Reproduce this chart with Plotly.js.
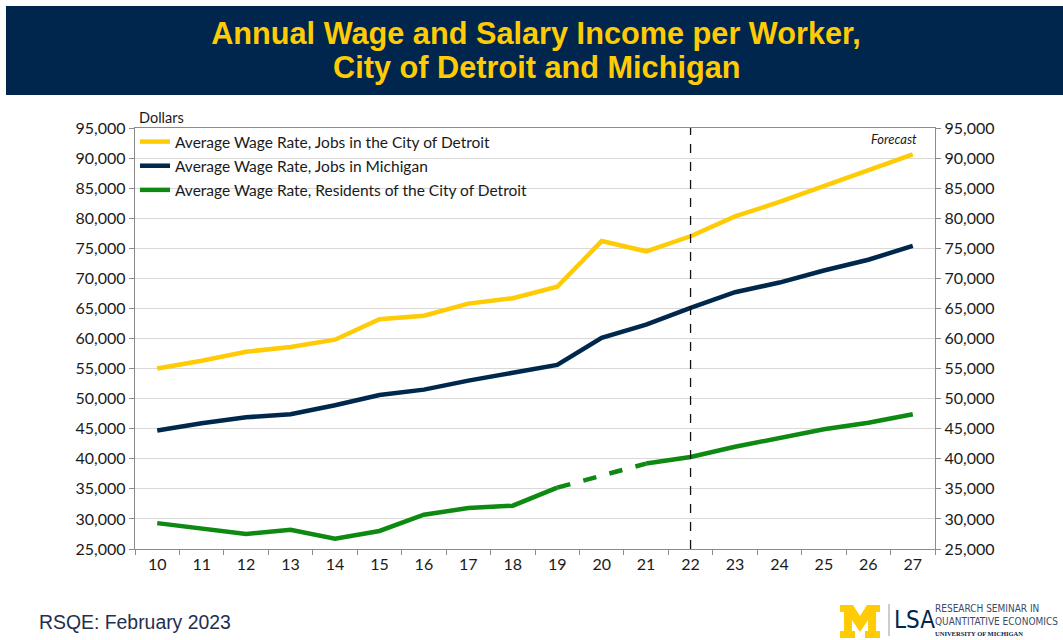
<!DOCTYPE html>
<html>
<head>
<meta charset="utf-8">
<script src="https://cdn.plot.ly/plotly-3.0.1.min.js"></script>
<style>
  html, body { margin: 0; padding: 0; background: #fff; }
  #chart { width: 1063px; height: 640px; }
</style>
</head>
<body>
<div id="chart"></div>
<script>
// years (20xx), last actual year is 22, forecast after
const years = [10, 11, 12, 13, 14, 15, 16, 17, 18, 19, 20, 21, 22, 23, 24, 25, 26, 27];
const forecastYear = 22;

const detroitJobs = [55000, 56300, 57800, 58600, 59800, 63200, 63800, 65800, 66700, 68600,
                     76200, 74500, 77000, 80300, 82700, 85300, 87900, 90600];
const michiganJobs = [44700, 45900, 46900, 47400, 48900, 50600, 51500, 53000, 54300, 55600,
                      60100, 62300, 65100, 67700, 69300, 71300, 73100, 75400];
const detroitResidents = [29300, 28400, 27500, 28200, 26700, 28000, 30700, 31800, 32200, 35200,
                          37200, 39200, 40300, 42000, 43500, 44900, 46000, 47400];

// residents series is dashed between 19 and 21 (estimated years)
const dashFrom = years.indexOf(19);
const dashTo = years.indexOf(21);

const names = [
  'Average Wage Rate, Jobs in the City of Detroit',
  'Average Wage Rate, Jobs in Michigan',
  'Average Wage Rate, Residents of the City of Detroit'
];
const colors = ['#FFCB05', '#00274C', '#0E8A12'];

const font = 'Lato, "Open Sans", sans-serif';
const arial = '"Liberation Sans", Arial, sans-serif';
const narrow = '"Liberation Sans Narrow", "DejaVu Sans Condensed", sans-serif';

// pixel -> paper helpers (plot area is 135..935 x 128..549)
const px = x => (x - 135) / 800;
const py = y => (549 - y) / 421;

let traces = [
  {
    x: years.slice(0, dashFrom + 1), y: detroitResidents.slice(0, dashFrom + 1),
    name: names[2], legendgroup: 'c', legendrank: 3,
    mode: 'lines', line: {color: colors[2], width: 4.5}
  },
  {
    x: years.slice(dashFrom, dashTo + 1), y: detroitResidents.slice(dashFrom, dashTo + 1),
    name: names[2], legendgroup: 'c', showlegend: false,
    mode: 'lines', line: {color: colors[2], width: 4.5, dash: 'dash'}
  },
  {
    x: years.slice(dashTo), y: detroitResidents.slice(dashTo),
    name: names[2], legendgroup: 'c', showlegend: false,
    mode: 'lines', line: {color: colors[2], width: 4.5}
  },
  {
    x: years, y: michiganJobs, name: names[1], legendgroup: 'b', legendrank: 2,
    mode: 'lines', line: {color: colors[1], width: 4.5}
  },
  {
    x: years, y: detroitJobs, name: names[0], legendgroup: 'a', legendrank: 1,
    mode: 'lines', line: {color: colors[0], width: 4.5}
  },
  // keeps the right hand axis alive
  {
    x: years, y: detroitJobs, yaxis: 'y2', showlegend: false, hoverinfo: 'skip',
    mode: 'lines', line: {width: 0}, opacity: 0
  }
];

const yTicks = {
  range: [25000, 95000], dtick: 5000, tickformat: ',d',
  showgrid: true, gridcolor: '#D9D9D9', gridwidth: 1,
  showline: true, linecolor: '#8C8C8C', linewidth: 1.3,
  ticks: 'outside', ticklen: 5, tickcolor: '#8C8C8C',
  tickfont: {family: font, size: 16, color: '#1a1a1a'},
  zeroline: false, fixedrange: true
};

// block M logo outline, in pixels relative to its top-left corner
const mPts = [[0,0],[13,0],[20,11],[27,0],[40,0],[40,7],[36,7],[36,26],[40,26],[40,33],[25,33],[25,26],
              [28,26],[28,15],[20,27],[12,15],[12,26],[15,26],[15,33],[0,33],[0,26],[4,26],[4,7],[0,7]];
const mPath = mPts.map((p, i) => (i ? 'L' : 'M') + px(840 + p[0]).toFixed(4) + ',' + py(605 + p[1]).toFixed(4)).join(' ') + ' Z';

let layout = {
  width: 1063, height: 640,
  paper_bgcolor: '#fff', plot_bgcolor: '#fff',
  margin: {l: 135, r: 128, t: 128, b: 91},
  title: {
    text: 'Annual Wage and Salary Income per Worker,',
    font: {family: arial, size: 30.7, color: '#FFCB05', weight: 'bold'},
    x: 536 / 1063, xanchor: 'center', y: 1 - 33 / 640, yanchor: 'middle'
  },
  showlegend: true,
  legend: {
    x: 0, xanchor: 'left', y: 1 + 3 / 421, yanchor: 'top',
    bgcolor: 'rgba(0,0,0,0)', traceorder: 'grouped', tracegroupgap: 1,
    font: {family: font, size: 15.5, color: '#1a1a1a'}
  },
  xaxis: {
    range: [9.5, 27.5], tickvals: years, ticktext: years.map(String),
    ticks: '', showgrid: false, zeroline: false,
    showline: true, mirror: true, linecolor: '#8C8C8C', linewidth: 1.3,
    minor: {tick0: 9.5, dtick: 1, ticks: 'outside', ticklen: 5, tickcolor: '#8C8C8C', showgrid: false},
    tickfont: {family: font, size: 16, color: '#1a1a1a'},
    fixedrange: true
  },
  yaxis: Object.assign({}, yTicks, {side: 'left'}),
  yaxis2: Object.assign({}, yTicks, {side: 'right', overlaying: 'y', showgrid: false}),
  shapes: [
    // banner behind the title
    {type: 'rect', xref: 'paper', yref: 'paper', x0: px(6), x1: px(1070),
     y0: py(95), y1: py(6), fillcolor: '#00264D', line: {width: 0}, layer: 'below'},
    // forecast divider
    {type: 'line', xref: 'x', yref: 'paper', x0: forecastYear, x1: forecastYear, y0: 0, y1: 1,
     line: {color: '#111', width: 1.3, dash: 'dash'}},
    // logo: block M and divider
    {type: 'path', xref: 'paper', yref: 'paper', path: mPath, fillcolor: '#FFCB05', line: {width: 0}},
    {type: 'line', xref: 'paper', yref: 'paper', x0: px(889), x1: px(889),
     y0: py(604), y1: py(636), line: {color: '#9a9a9a', width: 1}}
  ],
  annotations: [
    {text: '<b>City of Detroit and Michigan</b>', xref: 'paper', yref: 'paper', x: px(536.5), y: py(68),
     xanchor: 'center', yanchor: 'middle', showarrow: false,
     font: {family: arial, size: 30.7, color: '#FFCB05'}},
    {text: 'Dollars', xref: 'paper', yref: 'paper', x: 0.002, y: py(118),
     xanchor: 'left', yanchor: 'middle', showarrow: false,
     font: {family: font, size: 14.5, color: '#1a1a1a'}},
    {text: '<i>Forecast</i>', xref: 'paper', yref: 'paper', x: px(919), y: py(139),
     xanchor: 'right', yanchor: 'middle', showarrow: false,
     font: {family: font, size: 13, color: '#1a1a1a'}},
    {text: 'RSQE: February 2023', xref: 'paper', yref: 'paper', x: px(37), y: py(622),
     xanchor: 'left', yanchor: 'middle', showarrow: false,
     font: {family: arial, size: 19.4, color: '#1F2F4F'}},
    {text: 'LSA', xref: 'paper', yref: 'paper', x: px(892), y: py(620),
     xanchor: 'left', yanchor: 'middle', showarrow: false,
     font: {family: narrow, size: 24, color: '#00274C'}},
    {text: 'RESEARCH SEMINAR IN<br>QUANTITATIVE ECONOMICS', xref: 'paper', yref: 'paper',
     x: px(934), y: py(615), xanchor: 'left', yanchor: 'middle', showarrow: false, borderpad: 0,
     align: 'left', font: {family: narrow, size: 10, color: '#3c4a66'}},
    {text: '<b>UNIVERSITY OF MICHIGAN</b>', xref: 'paper', yref: 'paper',
     x: px(934), y: py(633), xanchor: 'left', yanchor: 'middle', showarrow: false, borderpad: 0,
     font: {family: '"Liberation Serif", serif', size: 6.5, color: '#00274C'}}
  ]
};

Plotly.newPlot('chart', traces, layout, {displayModeBar: false, staticPlot: true});
</script>
</body>
</html>
